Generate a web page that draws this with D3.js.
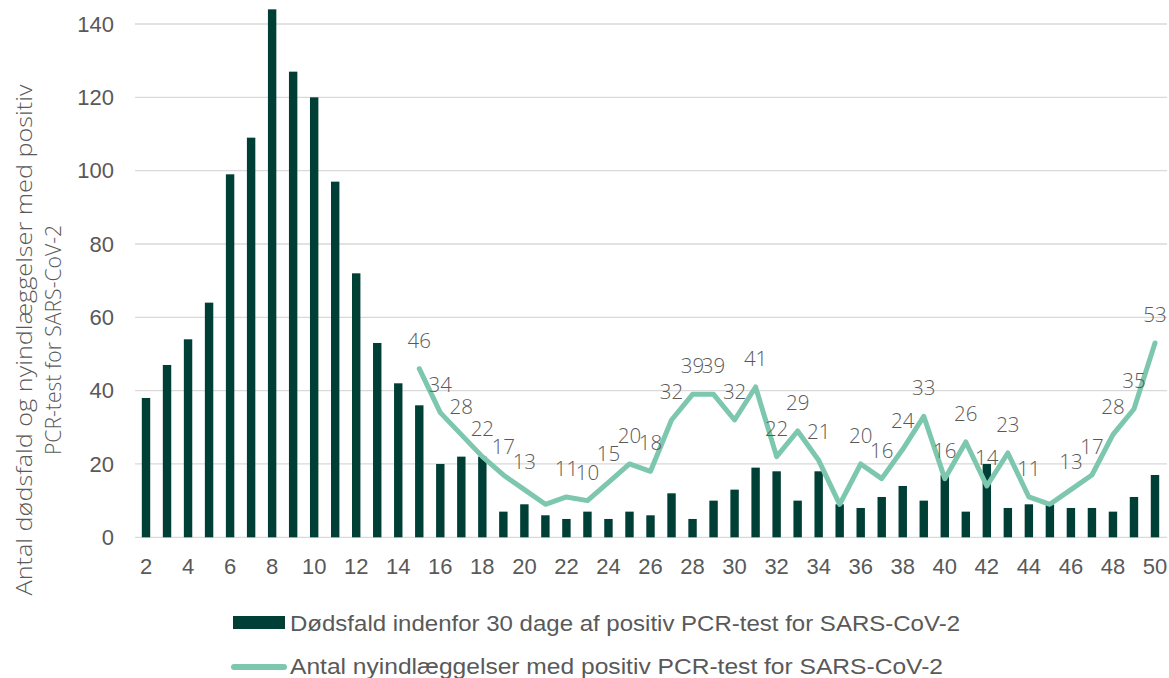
<!DOCTYPE html>
<html><head><meta charset="utf-8">
<script src="https://cdn.jsdelivr.net/npm/d3@7"></script>
<style>
html,body{margin:0;padding:0;background:#fff;}
svg{display:block;}
</style></head>
<body>
<svg id="chart" width="1169" height="678"></svg>
<script>
const weeks = d3.range(2, 51);
const xTickLabels = d3.range(2, 51, 2);
const yTicks = [0, 20, 40, 60, 80, 100, 120, 140];
const deaths = [38,47,54,64,99,109,144,127,120,97,72,53,42,36,20,22,22,7,9,6,5,7,5,7,6,12,5,10,13,19,18,10,18,9,8,11,14,10,17,7,20,8,9,9,8,8,7,11,17];
const admWeeks = d3.range(15, 51);
const admissions = [46,34,28,22,17,13,9,11,10,15,20,18,32,39,39,32,41,22,29,21,9,20,16,24,33,16,26,14,23,11,9,13,17,28,35,53];
const admLabelShown = [true,true,true,true,true,true,false,true,true,true,true,true,true,true,true,true,true,true,true,true,false,true,true,true,true,true,true,true,true,true,false,true,true,true,true,true];
const legendLabels = ["Dødsfald indenfor 30 dage af positiv PCR-test for SARS-CoV-2","Antal nyindlæggelser med positiv PCR-test for SARS-CoV-2"];
const yTitle = ["Antal dødsfald og nyindlæggelser med positiv","PCR-test for SARS-CoV-2"];

const barColor = "#003f35", lineColor = "#7cc7ad", textColor = "#595959", gridColor = "#d9d9d9";
const svg = d3.select("#chart");

const x = d3.scaleBand().domain(weeks).range([135.5, 1165.5]).paddingInner(0.6).paddingOuter(0.3);
const y = d3.scaleLinear().domain([0, 140]).range([537.3, 24]);
const cx = w => x(w) + x.bandwidth()/2;

// gridlines
svg.append("g").selectAll("line").data(yTicks).join("line")
  .attr("x1", 135).attr("x2", 1167)
  .attr("y1", d => y(d)).attr("y2", d => y(d))
  .attr("stroke", gridColor).attr("stroke-width", 1.3);

// y axis labels
const yAxis = d3.axisLeft(y).tickValues(yTicks).tickSize(0).tickPadding(21);
svg.append("g").attr("transform","translate(135,0)").call(yAxis)
  .call(g => g.select(".domain").remove())
  .selectAll("text").attr("font-family","'Liberation Sans', Arial, sans-serif")
  .attr("font-size", 22).attr("fill", textColor);

// x axis labels
const xAxis = d3.axisBottom(x).tickValues(xTickLabels).tickSize(0).tickPadding(0);
svg.append("g").attr("transform","translate(0,537.3)").call(xAxis)
  .call(g => g.select(".domain").remove())
  .selectAll("text").attr("dy", null).attr("y", 36.3)
  .attr("font-family","'Liberation Sans', Arial, sans-serif")
  .attr("font-size", 22).attr("fill", textColor);

// bars
svg.append("g").selectAll("rect").data(weeks).join("rect")
  .attr("x", (d) => x(d)).attr("width", x.bandwidth())
  .attr("y", (d,i) => y(deaths[i])).attr("height", (d,i) => y(0) - y(deaths[i]))
  .attr("fill", barColor);

// line
const line = d3.line().x((d,i) => cx(admWeeks[i])).y(d => y(d));
svg.append("path").datum(admissions).attr("d", line)
  .attr("fill","none").attr("stroke", lineColor).attr("stroke-width", 5)
  .attr("stroke-linejoin","round").attr("stroke-linecap","round");

// data labels
svg.append("g").selectAll("text").data(admissions.map((v,i)=>({v, w: admWeeks[i], s: admLabelShown[i]})).filter(d=>d.s))
  .join("text")
  .attr("x", d => cx(d.w)).attr("y", d => y(d.v) - 21)
  .attr("text-anchor","middle")
  .attr("font-family","'Open Sans', 'DejaVu Sans', sans-serif").attr("font-weight", 300)
  .attr("font-size", 20.5).attr("fill", textColor)
  .text(d => d.v);

// y title
const yt = svg.append("text").attr("transform","translate(0,340) rotate(-90)")
  .attr("text-anchor","middle")
  .attr("font-family","'Open Sans', 'DejaVu Sans', sans-serif").attr("font-weight", 300)
  .attr("font-size", 22).attr("fill", textColor);
const t1 = yt.append("tspan").attr("x",0).attr("y",32).text(yTitle[0]);
const t2 = yt.append("tspan").attr("x",0).attr("y",61).text(yTitle[1]);
[[t1,511],[t2,230]].forEach(([t,w]) => t.attr("textLength", w).attr("lengthAdjust","spacingAndGlyphs"));

// legend
const lg = svg.append("g");
lg.append("rect").attr("x",233).attr("y",616).attr("width",52).attr("height",13).attr("fill",barColor);
lg.append("line").attr("x1",234).attr("x2",284).attr("y1",667).attr("y2",667)
  .attr("stroke",lineColor).attr("stroke-width",6).attr("stroke-linecap","round");
const lt1 = lg.append("text").attr("x",290).attr("y",631).text(legendLabels[0]);
const lt2 = lg.append("text").attr("x",290).attr("y",674).text(legendLabels[1]);
[[lt1,670],[lt2,653]].forEach(([t,w]) => {
  t.attr("font-family","'Liberation Sans', Arial, sans-serif")
   .attr("font-size", 22).attr("fill", textColor);
  const L = t.node().getComputedTextLength();
  if (Math.abs(L - w) > 4) t.attr("textLength", w).attr("lengthAdjust","spacingAndGlyphs");
});
</script>
</body></html>
